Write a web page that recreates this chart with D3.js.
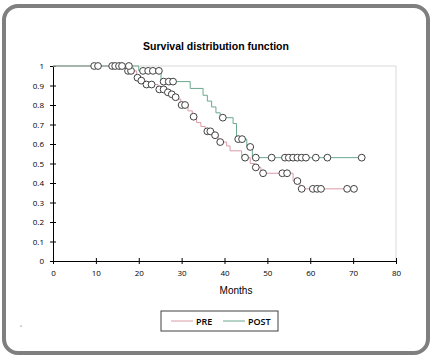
<!DOCTYPE html>
<html><head><meta charset="utf-8">
<script src="https://cdn.jsdelivr.net/npm/d3@7"></script>
<style>body{margin:0;background:#fff;}svg{display:block;}</style>
</head><body>
<svg id="c" width="433" height="360"></svg>
<script>
// Step times (months) and survival after each step
const preTimes  = [0, 17, 19.5, 20.5, 21.5, 24.5, 26, 27, 28, 29, 29.8, 31.5, 32.5, 33.5, 34.5, 35.5, 37.5, 38.5, 40.5, 41.3, 44, 46, 47, 48.5, 56, 57.6, 70.2];
const preSurv   = [1, 0.975, 0.94, 0.925, 0.905, 0.88, 0.865, 0.855, 0.84, 0.83, 0.80, 0.77, 0.74, 0.71, 0.69, 0.665, 0.645, 0.61, 0.59, 0.565, 0.53, 0.50, 0.48, 0.45, 0.41, 0.37, 0.37];
const preCens   = [17.5, 18.2, 19.7, 20.6, 21.8, 23, 24.8, 25.8, 26.8, 27.7, 28.6, 30, 30.8, 32.8, 36, 36.7, 37.8, 39, 44.8, 47.3, 49, 53.5, 54.6, 57, 58, 60.6, 61.6, 62.5, 68.6, 70.2];

const postTimes = [0, 20, 25.2, 32, 35, 36, 37, 38, 39, 42, 42.8, 45.2, 46.5, 72];
const postSurv  = [1, 0.975, 0.92, 0.885, 0.85, 0.82, 0.79, 0.76, 0.735, 0.705, 0.625, 0.585, 0.53, 0.53];
const postCens  = [9.6, 10.5, 13.8, 14.5, 15.4, 16.1, 17.7, 21, 22.2, 23.3, 24.7, 25.8, 27, 28, 39.6, 43.2, 44.1, 46, 47.3, 51, 54.1, 55, 56, 57, 58, 59, 61.3, 64, 72];

const xTicks = [0, 10, 20, 30, 40, 50, 60, 70, 80];
const yTicks = [0, 0.1, 0.2, 0.3, 0.4, 0.5, 0.6, 0.7, 0.8, 0.9, 1];
const seriesNames = ["PRE", "POST"];
const seriesColors = ["#dc9aa6", "#6aa88e"];

const svg = d3.select("#c");
// outer rounded frame
svg.append("rect").attr("x", 4).attr("y", 6).attr("width", 424).attr("height", 347)
  .attr("rx", 14).attr("fill", "#fff").attr("stroke", "#7f7f7f").attr("stroke-width", 4);

const x = d3.scaleLinear().domain([0, 80]).range([53, 396]);
const y = d3.scaleLinear().domain([0, 1]).range([261, 66]);

// plot area border (top/right)
svg.append("path").attr("d", `M${x(0)},${y(1)}H${x(80)}V${y(0)}`)
  .attr("fill", "none").attr("stroke", "#d9d9d9").attr("stroke-width", 1);

svg.append("text").attr("x", 216).attr("y", 50).attr("text-anchor", "middle")
  .attr("font-family", "Liberation Sans, Arial, sans-serif").attr("font-weight", "bold")
  .attr("font-size", 10.5).attr("fill", "#000").text("Survival distribution function");

const fontAx = "Open Sans, Calibri, sans-serif";
// axes
const xAxis = d3.axisBottom(x).tickValues(xTicks).tickFormat(d3.format("d")).tickSizeInner(3).tickSizeOuter(0).tickPadding(6);
const gx = svg.append("g").attr("transform", `translate(0,${y(0)})`).call(xAxis);
gx.selectAll(".tick line").attr("y1", -3).attr("y2", 3);
gx.selectAll("text").attr("font-family", fontAx).attr("font-size", 8).attr("fill", "#000");
gx.select(".domain").attr("stroke", "#000");

const yAxis = d3.axisLeft(y).tickValues(yTicks).tickFormat(d => String(d)).tickSizeInner(3).tickSizeOuter(0).tickPadding(6);
const gy = svg.append("g").attr("transform", `translate(${x(0)},0)`).call(yAxis);
gy.selectAll(".tick line").attr("x1", -3).attr("x2", 3);
gy.selectAll("text").attr("font-family", fontAx).attr("font-size", 8).attr("fill", "#000");
gy.select(".domain").attr("stroke", "#000");

svg.append("text").attr("x", 236).attr("y", 294).attr("text-anchor", "middle")
  .attr("font-family", "Liberation Sans, Arial, sans-serif").attr("font-size", 10).attr("fill", "#000").text("Months");

function survAt(times, surv, t) {
  let s = surv[0];
  for (let i = 0; i < times.length; i++) if (times[i] <= t) s = surv[i];
  return s;
}

const line = d3.line().x(d => x(d[0])).y(d => y(d[1])).curve(d3.curveStepAfter);
const series = [
  {times: preTimes, surv: preSurv, cens: preCens, color: seriesColors[0]},
  {times: postTimes, surv: postSurv, cens: postCens, color: seriesColors[1]}
];
series.forEach(s => {
  const pts = s.times.map((t, i) => [t, s.surv[i]]);
  svg.append("path").datum(pts).attr("d", line).attr("fill", "none")
    .attr("stroke", s.color).attr("stroke-width", 1);
});
series.forEach(s => {
  svg.append("g").selectAll("circle").data(s.cens).join("circle")
    .attr("cx", d => x(d)).attr("cy", d => y(survAt(s.times, s.surv, d)))
    .attr("r", 3.4).attr("fill", "#fff").attr("stroke", "#404040").attr("stroke-width", 1);
});

// legend
const lg = svg.append("g");
lg.append("rect").attr("x", 161).attr("y", 311).attr("width", 117).attr("height", 20)
  .attr("fill", "#fff").attr("stroke", "#404040").attr("stroke-width", 1);
seriesNames.forEach((n, i) => {
  const x0 = 171 + i * 52;
  lg.append("line").attr("x1", x0).attr("x2", x0 + 22).attr("y1", 321).attr("y2", 321)
    .attr("stroke", seriesColors[i]).attr("stroke-width", 1);
  lg.append("text").attr("x", x0 + 25).attr("y", 324.5).attr("font-family", fontAx)
    .attr("font-weight", 600).attr("font-size", 9).attr("fill", "#000").text(n);
});
svg.append("circle").attr("cx", 21).attr("cy", 326).attr("r", 0.6).attr("fill", "#444");
</script>
</body></html>
